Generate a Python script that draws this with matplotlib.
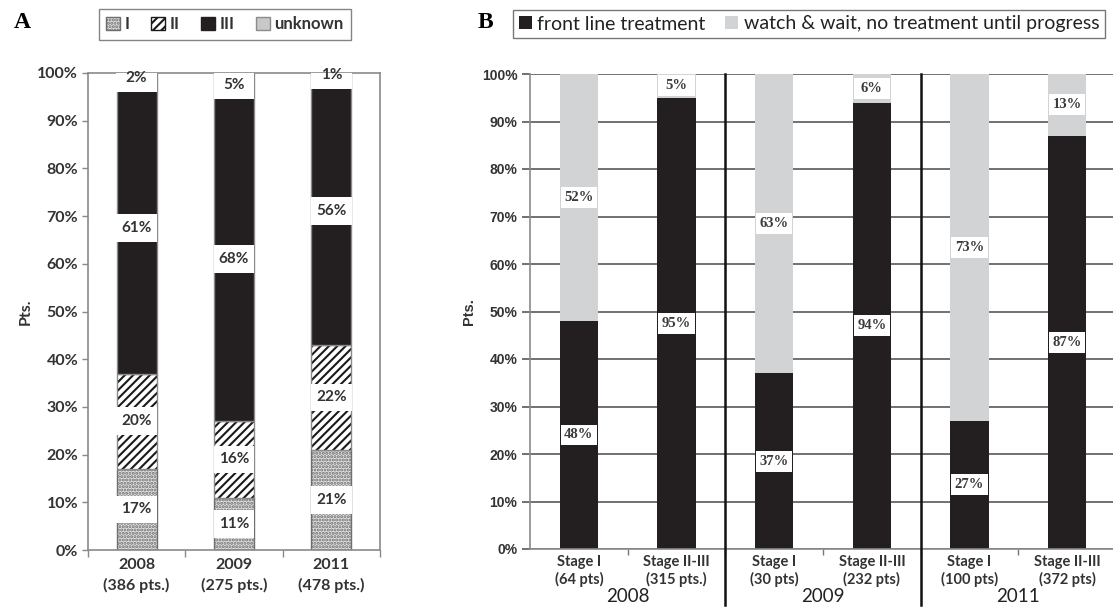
import matplotlib
matplotlib.use("Agg")
import matplotlib.pyplot as plt
import matplotlib.transforms as mtransforms
from matplotlib.patches import Patch

# Panel A: stage distribution per year (percent of patients)
years_a = ["2008\n(386 pts.)", "2009\n(275 pts.)", "2011\n(478 pts.)"]
stage_i = [17, 11, 21]
stage_ii = [20, 16, 22]
stage_iii = [61, 68, 56]
unknown = [2, 5, 1]

# Panel B: treatment decision per stage group and year
cats_b = ["Stage I\n(64 pts)", "Stage II-III\n(315 pts.)",
          "Stage I\n(30 pts)", "Stage II-III\n(232 pts)",
          "Stage I\n(100 pts)", "Stage II-III\n(372 pts)"]
front_line = [48, 95, 37, 94, 27, 87]
watch_wait = [52, 5, 63, 6, 73, 13]
years_b = ["2008", "2009", "2011"]

BLACK = "#231f20"
LIGHT = "#d1d3d4"
TXT = "#333333"
SANS = ["Lato", "DejaVu Sans"]

plt.rcParams["hatch.linewidth"] = 1.5

fig = plt.figure(figsize=(11.13, 6.11), dpi=100)

# ---------------- panel A ----------------
ax_a = fig.add_axes([88 / 1113, 61 / 611, 292 / 1113, 477 / 611])
xa = list(range(len(years_a)))
bw_a = 0.41

segments = [
    (stage_i, dict(facecolor="#e2e2e2", edgecolor="#6e6e6e", hatch=".....")),
    (stage_ii, dict(facecolor="white", edgecolor="#1a1a1a", hatch="////", linewidth=0)),
    (stage_iii, dict(facecolor=BLACK, edgecolor="#8a8a8a")),
    (unknown, dict(facecolor="#c8c8c8", edgecolor="#8a8a8a")),
]
bottom = [0] * len(xa)
label_pos = []
for vals, style in segments:
    kw = dict(style)
    kw.setdefault("linewidth", 1)
    ax_a.bar(xa, vals, bw_a, bottom=bottom, zorder=2, **kw)
    if kw["linewidth"] == 0:
        # hatched segment gets its own grey outline
        ax_a.bar(xa, vals, bw_a, bottom=bottom, fill=False,
                 edgecolor="#8a8a8a", linewidth=1, zorder=2)
    label_pos.append([(b + v / 2, v) for b, v in zip(bottom, vals)])
    bottom = [b + v for b, v in zip(bottom, vals)]

box_h_a = 5.8
for seg in label_pos:
    for x, (c, v) in zip(xa, seg):
        ax_a.bar(x, box_h_a, bw_a + 0.01, bottom=c - box_h_a / 2,
                 color="white", linewidth=0, zorder=3)
        ax_a.text(x, c, f"{v}%", ha="center", va="center", fontsize=11,
                  fontweight="bold", color=TXT, family=SANS, zorder=4)

ax_a.set_xlim(-0.5, 2.5)
ax_a.set_ylim(0, 100)
ax_a.set_yticks(range(0, 101, 10))
ax_a.set_yticklabels([f"{v}%" for v in range(0, 101, 10)])
ax_a.set_xticks(xa)
ax_a.set_xticklabels(years_a, linespacing=1.45)
ax_a.set_xticks([-0.5, 0.5, 1.5, 2.5], minor=True)
ax_a.tick_params(axis="x", which="major", length=0, pad=6)
ax_a.tick_params(axis="x", which="minor", length=5, color="#888888", width=1)
ax_a.tick_params(axis="y", length=4, color="#888888", width=1, pad=3)
for lab in ax_a.get_xticklabels() + ax_a.get_yticklabels():
    lab.set_family(SANS)
    lab.set_fontweight("bold")
    lab.set_color(TXT)
    lab.set_fontsize(11.5)
for sp in ax_a.spines.values():
    sp.set_color("#8a8a8a")
    sp.set_linewidth(1.2)
ax_a.set_ylabel("Pts.", family=SANS, fontweight="bold", fontsize=11.5,
                color=TXT, labelpad=3)

leg_a = fig.legend(
    handles=[Patch(facecolor="#e2e2e2", edgecolor="#6e6e6e", hatch="....."),
             Patch(facecolor="white", edgecolor="#1a1a1a", hatch="////"),
             Patch(facecolor=BLACK, edgecolor=BLACK),
             Patch(facecolor="#c8c8c8", edgecolor="#8a8a8a")],
    labels=["I", "II", "III", "unknown"],
    loc="center", bbox_to_anchor=(225 / 1113, 1 - 24 / 611), ncol=4,
    frameon=True, fancybox=False, handlelength=0.8, handleheight=0.8,
    handletextpad=0.3, columnspacing=1.3, borderpad=0.45,
    prop=dict(family=SANS, weight="bold", size=12))
leg_a.get_frame().set_edgecolor("#666666")
leg_a.get_frame().set_linewidth(1)
for t in leg_a.get_texts():
    t.set_color(TXT)

# ---------------- panel B ----------------
ax_b = fig.add_axes([530 / 1113, 62 / 611, 586 / 1113, 475 / 611])
xb = list(range(len(cats_b)))
bw_b = 0.39

ax_b.bar(xb, front_line, bw_b, color=BLACK, linewidth=0, zorder=2)
ax_b.bar(xb, watch_wait, bw_b, bottom=front_line, color=LIGHT,
         linewidth=0, zorder=2)

box_h_b = 4.4
for x, f, w in zip(xb, front_line, watch_wait):
    for c, v in ((f / 2, f), (f + w / 2, w)):
        ax_b.bar(x, box_h_b, bw_b - 0.02, bottom=c - box_h_b / 2,
                 color="white", linewidth=0, zorder=3)
        ax_b.text(x, c, f"{v}%", ha="center", va="center", fontsize=10.5,
                  fontweight="bold", color="#3a3a3a",
                  family=["Liberation Serif", "DejaVu Serif"], zorder=4)

ax_b.set_xlim(-0.5, 5.5)
ax_b.set_ylim(0, 100)
ax_b.set_yticks(range(0, 101, 10))
ax_b.set_yticklabels([f"{v}%" for v in range(0, 101, 10)])
ax_b.yaxis.grid(True, color="#4a4a4a", linewidth=1.1, zorder=1)
ax_b.set_axisbelow(True)
ax_b.set_xticks(xb)
ax_b.set_xticklabels(cats_b, linespacing=1.3)
ax_b.set_xticks([0.5, 1.5, 2.5, 3.5, 4.5], minor=True)
ax_b.tick_params(axis="x", which="major", length=0, pad=4)
ax_b.tick_params(axis="x", which="minor", length=4, color="#777777", width=1)
ax_b.tick_params(axis="y", length=6, color="#4a4a4a", width=1.1, pad=3)
for lab in ax_b.get_xticklabels():
    lab.set_family(SANS)
    lab.set_fontweight("bold")
    lab.set_color(TXT)
    lab.set_fontsize(10.5)
for lab in ax_b.get_yticklabels():
    lab.set_family(["Liberation Sans", "DejaVu Sans"])
    lab.set_fontweight("bold")
    lab.set_color(TXT)
    lab.set_fontsize(10)
ax_b.spines["top"].set_visible(False)
ax_b.spines["right"].set_visible(False)
ax_b.spines["left"].set_color("#8a8a8a")
ax_b.spines["bottom"].set_color("#8a8a8a")
ax_b.spines["left"].set_linewidth(1.2)
ax_b.spines["bottom"].set_linewidth(1.2)
ax_b.set_ylabel("Pts.", family=["Liberation Sans", "DejaVu Sans"],
                fontweight="bold", fontsize=10.5, color=TXT, labelpad=4)

# year separators and group labels
for sep in (1.5, 3.5):
    ax_b.axvline(sep, ymin=-0.118, ymax=1, color="#111111", linewidth=1.8,
                 clip_on=False, zorder=5)
trans = mtransforms.blended_transform_factory(ax_b.transData, ax_b.transAxes)
for i, yr in enumerate(years_b):
    ax_b.text(2 * i + 0.5, -0.101, yr, transform=trans, ha="center",
              va="center", fontsize=13.5, color="#222222", family=SANS)

leg_b = fig.legend(
    handles=[Patch(facecolor=BLACK), Patch(facecolor=LIGHT)],
    labels=["front line treatment", "watch & wait, no treatment until progress"],
    loc="center", bbox_to_anchor=(809 / 1113, 1 - 24 / 611), ncol=2,
    frameon=True, fancybox=False, handlelength=0.65, handleheight=0.65,
    handletextpad=0.3, columnspacing=1.0, borderpad=0.3,
    prop=dict(family=SANS, size=14))
leg_b.get_frame().set_edgecolor("#555555")
leg_b.get_frame().set_linewidth(1)
for t in leg_b.get_texts():
    t.set_color("#222222")

# panel letters
fig.text(22 / 1113, 1 - 22 / 611, "A", ha="center", va="center", fontsize=17,
         fontweight="bold", family=["Liberation Serif", "DejaVu Serif"])
fig.text(485 / 1113, 1 - 22 / 611, "B", ha="center", va="center", fontsize=17,
         fontweight="bold", family=["Liberation Serif", "DejaVu Serif"])

fig.savefig("out.png", dpi=100, facecolor="white")
